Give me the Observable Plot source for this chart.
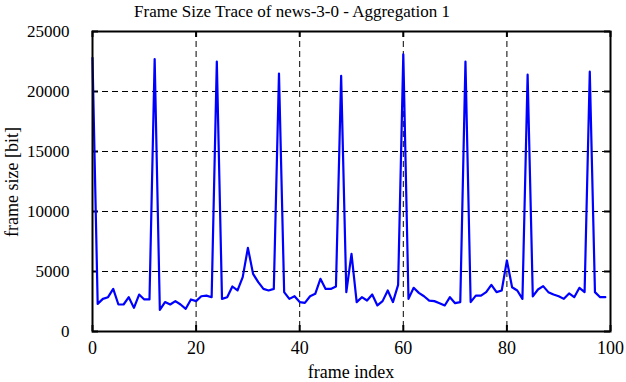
<!DOCTYPE html>
<html>
<head>
<meta charset="utf-8">
<script src="https://cdn.jsdelivr.net/npm/d3@7"></script>
<script src="https://cdn.jsdelivr.net/npm/@observablehq/plot@0.6"></script>
<style>
  html, body { margin: 0; padding: 0; background: #fff; }
  #wrap { position: relative; width: 626px; height: 382px; overflow: hidden; font-family: "Liberation Serif", "DejaVu Serif", serif; }
  #title { position: absolute; left: 0; top: 2px; width: 584px; text-align: center; font-size: 17px; line-height: 20px; color: #000; }
  #ylabel { position: absolute; left: 12px; top: 182px; transform: translate(-50%, -50%) rotate(-90deg); white-space: nowrap; font-size: 18px; line-height: 18px; }
  #xlabel { position: absolute; left: 351px; top: 364px; transform: translateX(-50%); white-space: nowrap; font-size: 18px; line-height: 17px; }
  svg { position: absolute; left: 0; top: 0; }
</style>
</head>
<body>
<div id="wrap">
  <div id="title">Frame Size Trace of news-3-0 - Aggregation 1</div>
  <div id="ylabel">frame size [bit]</div>
  <div id="xlabel">frame index</div>
</div>
<script>
const frameSizes = [
  22800, 2300, 2720, 2860, 3550, 2250, 2250, 2860, 1970, 3080,
  2670, 2670, 22700, 1800, 2450, 2250, 2530, 2250, 1890, 2670,
  2530, 2940, 2990, 2860, 22500, 2720, 2860, 3750, 3420, 4530,
  6970, 4800, 4110, 3550, 3420, 3550, 21500, 3280, 2720, 2940,
  2450, 2390, 2940, 3140, 4390, 3550, 3550, 3750, 21300, 3280,
  6470, 2450, 2860, 2580, 3080, 2170, 2530, 3420, 2450, 3890,
  23100, 2720, 3640, 3220, 2940, 2580, 2530, 2360, 2170, 2860,
  2360, 2450, 22500, 2450, 2990, 2990, 3280, 3890, 3280, 3420,
  5920, 3690, 3420, 2720, 21400, 2920, 3500, 3780, 3280, 3080,
  2940, 2720, 3170, 2860, 3640, 3280, 21650, 3280, 2860, 2860
];
const xTicks = [0, 20, 40, 60, 80, 100];
const yTicks = [0, 5000, 10000, 15000, 20000, 25000];
const xGrid = [20, 40, 60, 80];
const yGrid = [5000, 10000, 15000, 20000];

const data = frameSizes.map((v, i) => ({frame: i, size: v}));

const W = 626, H = 382, mL = 92, mR = 16, mT = 31, mB = 51;
const innerH = H - mT - mB, innerW = W - mL - mR;
const tick = 6;
const SERIF = '"Liberation Serif", "DejaVu Serif", serif';

const chart = Plot.plot({
  width: W,
  height: H,
  marginLeft: mL,
  marginRight: mR,
  marginTop: mT,
  marginBottom: mB,
  style: {fontFamily: SERIF, fontSize: "18px", color: "#000", background: "transparent"},
  x: {domain: [0, 100]},
  y: {domain: [0, 25000]},
  marks: [
    Plot.ruleX(xGrid, {stroke: "#000", strokeWidth: 1, strokeDasharray: "6,4"}),
    Plot.ruleY(yGrid, {stroke: "#000", strokeWidth: 1, strokeDasharray: "6,4"}),
    Plot.ruleX(xTicks, {stroke: "#000", strokeWidth: 2, insetTop: innerH - tick}),
    Plot.ruleX(xTicks, {stroke: "#000", strokeWidth: 2, insetBottom: innerH - tick}),
    Plot.ruleY(yTicks, {stroke: "#000", strokeWidth: 2, insetRight: innerW - tick}),
    Plot.ruleY(yTicks, {stroke: "#000", strokeWidth: 2, insetLeft: innerW - tick}),
    Plot.axisX(xTicks, {tickSize: 0, tickPadding: 10, fontSize: 18, label: null}),
    Plot.axisY(yTicks, {tickSize: 0, tickPadding: 23, fontSize: 17, label: null, tickFormat: d => String(d)}),
    Plot.line(data, {x: "frame", y: "size", stroke: "#0000ff", strokeWidth: 2.2}),
    Plot.frame({stroke: "#000", strokeWidth: 2})
  ]
});
chart.querySelectorAll("g, text").forEach(el => {
  el.setAttribute("font-family", SERIF);
  el.style.setProperty("font-family", SERIF, "important");
  el.style.setProperty("font-variant", "normal", "important");
});
document.getElementById("wrap").prepend(chart);
</script>
</body>
</html>
